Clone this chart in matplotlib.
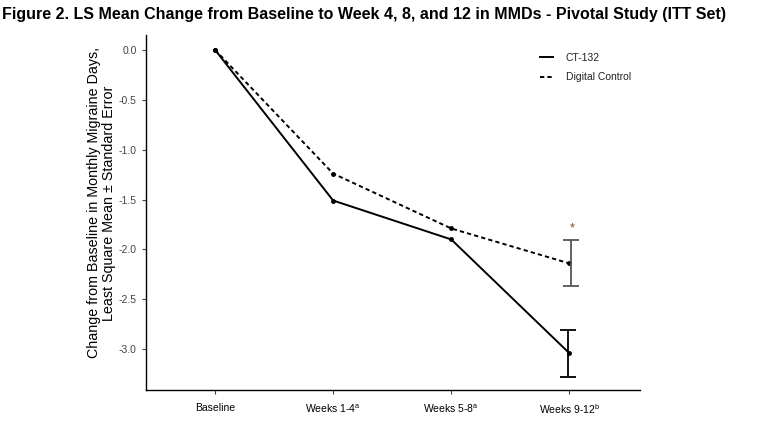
import matplotlib.pyplot as plt

# LS mean change from baseline in MMDs
visits = ['Baseline', 'Weeks 1-4$^{\\mathregular{a}}$', 'Weeks 5-8$^{\\mathregular{a}}$', 'Weeks 9-12$^{\\mathregular{b}}$']
ct132 = [0.0, -1.51, -1.90, -3.04]
control = [0.0, -1.24, -1.79, -2.14]
ct132_se = 0.235
control_se = 0.23

plt.rcParams['font.family'] = ['Liberation Sans', 'DejaVu Sans']

fig = plt.figure(figsize=(7.64, 4.25), dpi=100)
ax = fig.add_axes([0.191, 0.082, 0.647, 0.836])

x = list(range(len(visits)))
ax.plot(x, ct132, color='black', lw=1.4, marker='o', ms=2.5, label='CT-132')
ax.plot(x, control, color='black', lw=1.4, ls=(0, (2.2, 1.6)), marker='o', ms=2.5,
        label='Digital Control')

ax.errorbar(x[-1] - 0.01, ct132[-1], yerr=ct132_se, color='black', lw=1.3,
            capsize=6, capthick=1.3, fmt='none')
ax.errorbar(x[-1] + 0.01, control[-1], yerr=control_se, color='#555555', lw=1.3,
            capsize=6, capthick=1.3, fmt='none')
ax.text(x[-1] + 0.02, control[-1] + control_se + 0.12, '*', ha='center', va='center',
        fontsize=9, color='#6b4a2a')

ax.set_xlim(-0.585, 3.6)
ax.set_ylim(-3.41, 0.15)
ax.set_xticks(x)
ax.set_xticklabels(visits, fontsize=7.5)
ax.set_yticks([0.0, -0.5, -1.0, -1.5, -2.0, -2.5, -3.0])
ax.set_yticklabels(['0.0', '-0.5', '-1.0', '-1.5', '-2.0', '-2.5', '-3.0'], fontsize=7.5,
                   color='#444444')
ax.tick_params(length=3, color='#444444', width=0.8)
ax.tick_params(axis='x', pad=6)
for s in ['top', 'right']:
    ax.spines[s].set_visible(False)
for s in ['left', 'bottom']:
    ax.spines[s].set_linewidth(1.0)

ax.set_ylabel('Change from Baseline in Monthly Migraine Days,\nLeast Square Mean \u00b1 Standard Error',
              fontsize=10.3, linespacing=1.1)
ax.yaxis.set_label_coords(-0.06, 0.527)

ax.legend(loc='upper right', bbox_to_anchor=(1.0, 0.975), frameon=False, fontsize=7.5,
          handlelength=1.3, handletextpad=1.2, labelspacing=0.9, markerscale=0,
          labelcolor='#222222')

fig.text(0.003, 0.965, 'Figure 2. LS Mean Change from Baseline to Week 4, 8, and 12 in MMDs - Pivotal Study (ITT Set)',
         fontsize=11.5, fontweight='bold', family=['Liberation Sans Narrow', 'Liberation Sans'],
         va='center', ha='left')

fig.savefig('out.png', dpi=100)
